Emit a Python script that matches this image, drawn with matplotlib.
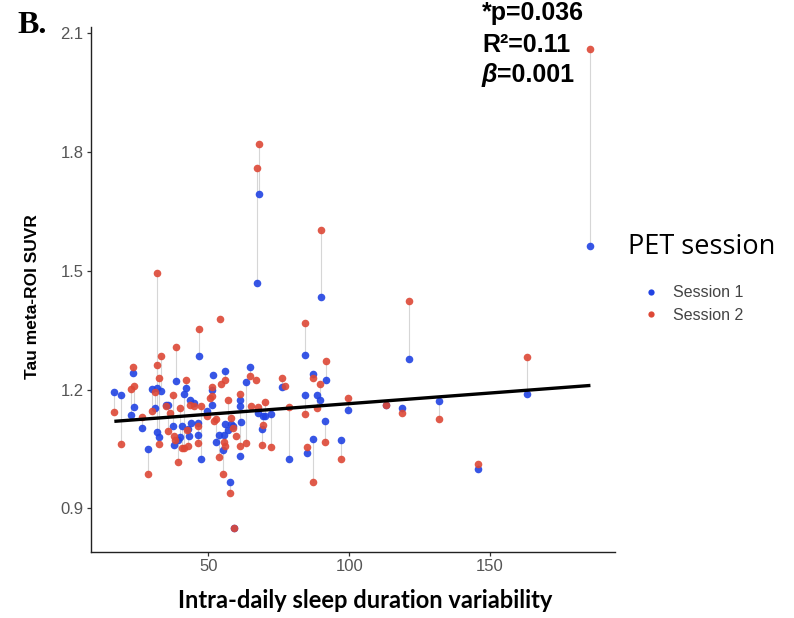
import numpy as np
import matplotlib
matplotlib.use("Agg")
import matplotlib.pyplot as plt
from matplotlib.lines import Line2D

nan = np.nan

# per subject: sleep variability, SUVR session 1, SUVR session 2 (nan = missing)
subj_x = [16.7, 19.1, 22.5, 23.4, 23.6, 26.5, 28.6, 30.0, 31.0, 31.7,
          32.0, 32.5, 32.4, 33.1, 34.9, 35.8, 36.4, 37.4, 37.8, 38.2,
          39.2, 38.7, 40.8, 40.0, 42.0, 41.4, 42.6, 43.7, 45.1, 43.0,
          46.3, 43.1, 46.5, 44.0, 46.9, 47.3, 49.4, 50.6, 51.2, 51.4,
          51.6, 52.9, 52.0, 53.8, 54.1, 54.6, 55.5, 55.9, 56.1, 55.2,
          57.1, 58.0, 58.9, 57.7, 59.1, 59.7, 61.2, 61.4, 61.7, 61.2,
          63.5, 64.7, 65.3, 67.1, 67.9, 67.4, 67.6, 69.3, 70.3, 69.2,
          72.4, 76.2, 77.4, 78.8, 84.2, 84.5, 85.1, 87.1, 87.2, 88.6,
          89.8, 90.0, 91.6, 91.8, 97.1, 99.5, 113.2, 118.7, 121.3, 131.7,
          145.6, 163.0, 185.6]
ses1_suvr = [1.194, 1.186, 1.135, 1.242, 1.155, 1.103, 1.050, 1.202, 1.154, 1.204,
             1.092, 1.080, nan, 1.197, 1.160, 1.160, nan, 1.107, 1.061, nan,
             1.074, 1.221, 1.107, 1.080, 1.204, 1.189, nan, 1.175, 1.166, 1.100,
             1.086, 1.082, 1.116, 1.115, 1.284, 1.025, 1.145, nan, 1.162, 1.200,
             1.238, 1.069, nan, 1.086, nan, nan, 1.086, 1.248, 1.114, 1.048,
             1.099, 1.114, 1.107, 0.968, 0.852, nan, 1.175, 1.158, 1.117, 1.033,
             1.219, 1.257, nan, nan, 1.693, 1.468, 1.141, 1.133, 1.133, 1.101,
             1.139, 1.207, nan, 1.026, 1.187, 1.288, 1.040, 1.076, 1.240, 1.187,
             1.173, 1.433, 1.122, 1.225, 1.074, 1.148, 1.160, 1.154, 1.276, 1.171,
             1.000, 1.190, 1.562]
ses2_suvr = [1.144, 1.063, 1.202, 1.257, 1.208, 1.130, 0.987, 1.145, 1.193, 1.493,
             1.262, 1.229, 1.063, 1.284, 1.158, 1.095, 1.141, 1.186, 1.082, 1.074,
             1.018, 1.307, 1.053, 1.154, 1.224, 1.053, 1.099, 1.160, 1.158, 1.057,
             1.107, nan, 1.065, nan, 1.352, 1.158, 1.133, 1.179, 1.185, 1.206,
             nan, 1.127, 1.120, 1.031, 1.377, 1.213, 1.069, 1.225, 1.057, 0.987,
             1.175, 1.128, 1.103, 0.940, 0.852, 1.082, 1.190, 1.057, nan, nan,
             1.065, 1.235, 1.158, 1.224, 1.821, 1.759, 1.156, 1.111, 1.169, 1.059,
             1.055, 1.230, 1.208, 1.155, 1.139, 1.369, 1.054, 0.968, 1.230, 1.154,
             1.214, 1.604, 1.068, 1.272, 1.026, 1.179, 1.160, 1.141, 1.423, 1.126,
             1.013, 1.283, 2.059]

# linear fit
fit_intercept = 1.111
fit_slope = 0.000536

x = np.array(subj_x)
s1 = np.array(ses1_suvr)
s2 = np.array(ses2_suvr)

BLUE = "#2143e3"
RED = "#dd4836"

fig = plt.figure(figsize=(7.94, 6.18), dpi=100)
ax = fig.add_axes([0.1142, 0.1073, 0.6603, 0.8490])

# grey lines between the two sessions of one subject
both = ~np.isnan(s1) & ~np.isnan(s2)
ax.vlines(x[both], np.minimum(s1, s2)[both], np.maximum(s1, s2)[both],
          color="#d6d6d6", lw=0.8, zorder=1)

ax.scatter(x, s1, s=30, color=BLUE, alpha=0.9, linewidths=0, zorder=2)
ax.scatter(x, s2, s=30, color=RED, alpha=0.9, linewidths=0, zorder=3)

xs = np.array([x.min(), x.max()])
ax.plot(xs, fit_intercept + fit_slope * xs, color="black", lw=2.4, zorder=4,
        solid_capstyle="butt")

ax.set_xlim(8.3, 194.3)
ax.set_ylim(0.791, 2.115)
ax.set_xticks([50, 100, 150])
ax.set_yticks([0.9, 1.2, 1.5, 1.8, 2.1])
ax.set_yticklabels(["0.9", "1.2", "1.5", "1.8", "2.1"])
for side in ["top", "right"]:
    ax.spines[side].set_visible(False)
for side in ["left", "bottom"]:
    ax.spines[side].set_linewidth(1.0)
    ax.spines[side].set_color("#222222")
ax.tick_params(length=3, width=0.9, color="#333333", labelcolor="#555555",
               labelsize=12, pad=2)
for lab in ax.get_xticklabels() + ax.get_yticklabels():
    lab.set_family("Liberation Sans")

# axis titles
fig.text(365 / 794, 1 - 608 / 618, "Intra-daily sleep duration variability",
         ha="center", va="baseline", fontsize=17, fontweight="bold",
         family="Lato")
fig.text(33 / 794, 1 - 297 / 618, "Tau meta-ROI SUVR", rotation=90,
         ha="center", va="center", fontsize=12.5, fontweight="bold",
         family="Liberation Sans")

# panel letter
fig.text(17 / 794, 1 - 33 / 618, "B.", ha="left", va="baseline",
         fontsize=23, fontweight="bold", family="Liberation Serif")

# stats
stat_kw = dict(ha="left", va="baseline", fontsize=18, fontweight="bold",
               family="Liberation Sans")
fig.text(482 / 794, 1 - 20 / 618, "*p=0.036", **stat_kw)
fig.text(482 / 794, 1 - 52 / 618, "R²=0.11", **stat_kw)
tb = fig.text(482 / 794, 1 - 82 / 618, "β", style="italic", **stat_kw)
r = fig.canvas.get_renderer()
bb = tb.get_window_extent(renderer=r)
fig.text(bb.x1 / fig.bbox.width, 1 - 82 / 618, "=0.001", **stat_kw)

# legend
fig.text(628 / 794, 1 - 247 / 618, "PET session", ha="left", va="center",
         fontsize=19.5, family="Open Sans")
handles = [Line2D([], [], ls="", marker="o", ms=4.5, color=BLUE, mec="none"),
           Line2D([], [], ls="", marker="o", ms=4.5, color=RED, mec="none")]
fig.legend(handles, ["Session 1", "Session 2"], loc="center left",
           bbox_to_anchor=(635 / 794, 1 - 304 / 618), frameon=False,
           borderpad=0, handlelength=1.0, handletextpad=0.9, labelspacing=0.45,
           prop={"family": "Liberation Sans", "size": 11.5}, labelcolor="#444444")

fig.savefig("out.png", dpi=100)
